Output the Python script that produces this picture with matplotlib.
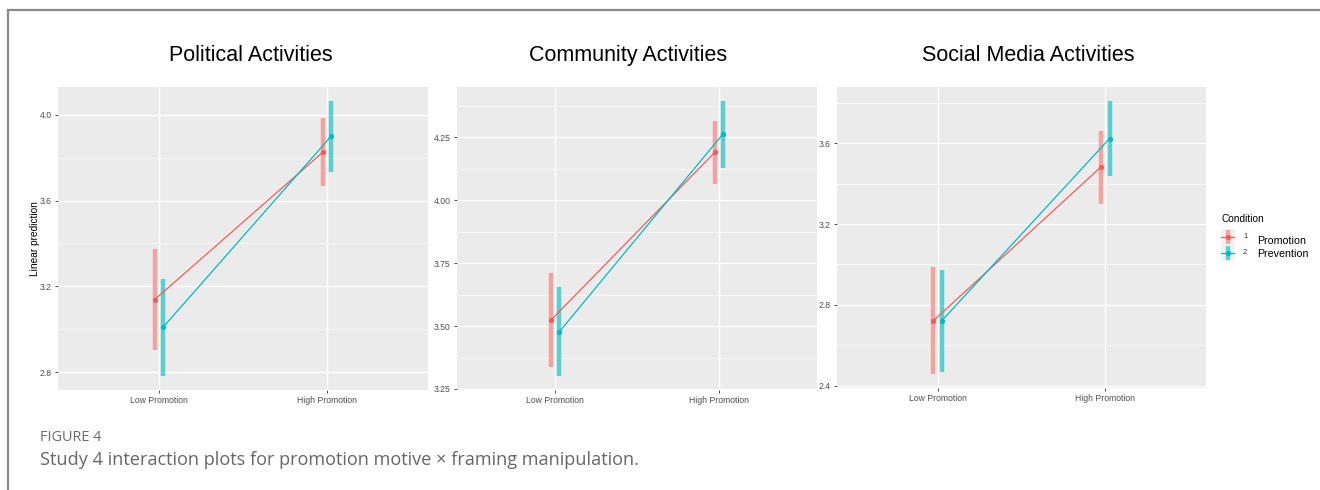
import matplotlib
matplotlib.use("Agg")
import matplotlib.pyplot as plt
from matplotlib.ticker import MultipleLocator, FixedLocator
from matplotlib.lines import Line2D
import numpy as np

# ---- data -------------------------------------------------------------
categories = ["Low Promotion", "High Promotion"]
titles = ["Political Activities", "Community Activities", "Social Media Activities"]
conditions = ["Promotion", "Prevention"]
condition_codes = ["1", "2"]

political_promotion = [3.138, 3.826]
political_promotion_lo = [2.904, 3.667]
political_promotion_hi = [3.372, 3.985]
political_prevention = [3.009, 3.901]
political_prevention_lo = [2.781, 3.735]
political_prevention_hi = [3.233, 4.065]

community_promotion = [3.524, 4.190]
community_promotion_lo = [3.337, 4.063]
community_promotion_hi = [3.710, 4.316]
community_prevention = [3.477, 4.263]
community_prevention_lo = [3.301, 4.130]
community_prevention_hi = [3.654, 4.395]

social_promotion = [2.722, 3.483]
social_promotion_lo = [2.457, 3.300]
social_promotion_hi = [2.986, 3.662]
social_prevention = [2.722, 3.623]
social_prevention_lo = [2.469, 3.437]
social_prevention_hi = [2.973, 3.810]

political_ticks = [2.8, 3.2, 3.6, 4.0]
community_ticks = [3.25, 3.50, 3.75, 4.00, 4.25]
social_ticks = [2.4, 2.8, 3.2, 3.6]
political_labels = ["2.8", "3.2", "3.6", "4.0"]
community_labels = ["3.25", "3.50", "3.75", "4.00", "4.25"]
social_labels = ["2.4", "2.8", "3.2", "3.6"]

# ---- style ------------------------------------------------------------
W, H = 1320, 490
DPI = 100
PANEL_BG = "#EBEBEB"
BAR_COLORS = ["#F8766D", "#00BFC4"]
LINE_COLORS = ["#F45A5E", "#00BBC0"]
FONT = ["Liberation Sans", "DejaVu Sans"]
CAPTION_FONT = ["Open Sans", "DejaVu Sans"]
plt.rcParams["font.family"] = FONT

fig = plt.figure(figsize=(W / DPI, H / DPI), dpi=DPI)
fig.patch.set_facecolor("white")


def px_axes(x0, y0, x1, y1):
    """Add axes given pixel box (left, top, right, bottom)."""
    return fig.add_axes([x0 / W, 1 - y1 / H, (x1 - x0) / W, (y1 - y0) / H])


panels = [
    dict(box=(58, 87, 428, 390), ylim=(2.716, 4.13), ticks=political_ticks,
         labels=political_labels, minor=0.2,
         series=[(political_promotion, political_promotion_lo, political_promotion_hi),
                 (political_prevention, political_prevention_lo, political_prevention_hi)],
         title_x=251),
    dict(box=(457, 87, 817, 390), ylim=(3.246, 4.45), ticks=community_ticks,
         labels=community_labels, minor=0.125,
         series=[(community_promotion, community_promotion_lo, community_promotion_hi),
                 (community_prevention, community_prevention_lo, community_prevention_hi)],
         title_x=628),
    dict(box=(837, 87, 1206, 388), ylim=(2.389, 3.878), ticks=social_ticks,
         labels=social_labels, minor=0.2,
         series=[(social_promotion, social_promotion_lo, social_promotion_hi),
                 (social_prevention, social_prevention_lo, social_prevention_hi)],
         title_x=1028),
]

x_base = np.arange(1, len(categories) + 1)
offsets = [-0.025, 0.025]

for i, p in enumerate(panels):
    ax = px_axes(*p["box"])
    ax.set_facecolor(PANEL_BG)
    for s in ax.spines.values():
        s.set_visible(False)
    ax.set_xlim(0.4, 2.6)
    ax.set_ylim(*p["ylim"])
    ax.yaxis.set_major_locator(FixedLocator(p["ticks"]))
    ax.set_yticklabels(p["labels"])
    ax.yaxis.set_minor_locator(MultipleLocator(p["minor"]))
    ax.set_xticks(x_base)
    ax.set_xticklabels(categories)
    ax.grid(which="major", color="white", lw=1.0, zorder=0)
    ax.grid(which="minor", axis="y", color="white", lw=0.5, zorder=0)
    ax.set_axisbelow(True)
    ax.tick_params(axis="both", which="major", length=2.5, width=0.6,
                   color="#333333", labelsize=6.2, labelcolor="#4D4D4D", pad=2)
    ax.tick_params(axis="y", which="minor", length=0)

    for (mean, lo, hi), bcol, lcol, off in zip(p["series"], BAR_COLORS,
                                                LINE_COLORS, offsets):
        xs = x_base + off
        ax.vlines(xs, lo, hi, colors=bcol, lw=3.2, alpha=0.62, zorder=2)
        ax.plot(xs, mean, color=lcol, lw=0.9, zorder=3)
        ax.plot(xs, mean, "o", color=lcol, ms=3.8, mec="none", zorder=4)

    fig.text(p["title_x"] / W, 1 - 61 / H, titles[i], ha="center", va="baseline",
             fontsize=15.5, color="black", family=FONT)
    if i == 0:
        ax.set_ylabel("Linear prediction", fontsize=7.3, color="black", labelpad=0)

# ---- legend ----------------------------------------------------------
fig.text(1221 / W, 1 - 219 / H, "Condition", fontsize=7.3, ha="left", va="center")
key_ax = px_axes(1221, 229, 1235, 261)
key_ax.set_facecolor("#F2F2F2")
for s in key_ax.spines.values():
    s.set_visible(False)
key_ax.set_xticks([])
key_ax.set_yticks([])
key_ax.set_xlim(0, 1)
key_ax.set_ylim(0, 2)
for k, (bcol, lcol) in enumerate(zip(BAR_COLORS, LINE_COLORS)):
    yk = 1.5 - k
    key_ax.vlines(0.5, yk - 0.45, yk + 0.45, colors=bcol, lw=3.2, alpha=0.62)
    key_ax.plot([0.02, 0.98], [yk, yk], color=lcol, lw=0.9)
    key_ax.plot([0.5], [yk], "o", color=lcol, ms=3.8, mec="none")

for k, (code, name) in enumerate(zip(condition_codes, conditions)):
    yk = [236.5, 252.5][k]
    fig.text(1243 / W, 1 - yk / H, code, fontsize=5.5, ha="left", va="center",
             color="#333333")
    fig.text(1257 / W, 1 - [241, 254][k] / H, name, fontsize=7.7, ha="left",
             va="center")

# ---- frame and caption -----------------------------------------------
fig.add_artist(Line2D([8 / W, 8 / W], [0, 1 - 10 / H], color="#8A8A8A", lw=1.6,
                      transform=fig.transFigure))
fig.add_artist(Line2D([8 / W, 1], [1 - 10 / H, 1 - 10 / H], color="#8A8A8A",
                      lw=1.6, transform=fig.transFigure))

renderer = fig.canvas.get_renderer()


def fitted_text(x, y, s, width_px, size, **kw):
    """Place text and scale its font so it spans width_px pixels."""
    t = fig.text(x / W, 1 - y / H, s, fontsize=size, ha="left", va="center", **kw)
    w = t.get_window_extent(renderer).width
    t.set_fontsize(size * width_px / w)
    return t


fitted_text(40, 437, "FIGURE 4", 62, 9, color="#6B6B6B", family=CAPTION_FONT)
fitted_text(40, 460,
            "Study 4 interaction plots for promotion motive \u00d7 framing manipulation.",
            598, 12, color="#666666", family=CAPTION_FONT)

fig.savefig("out.png", dpi=DPI, facecolor="white")
